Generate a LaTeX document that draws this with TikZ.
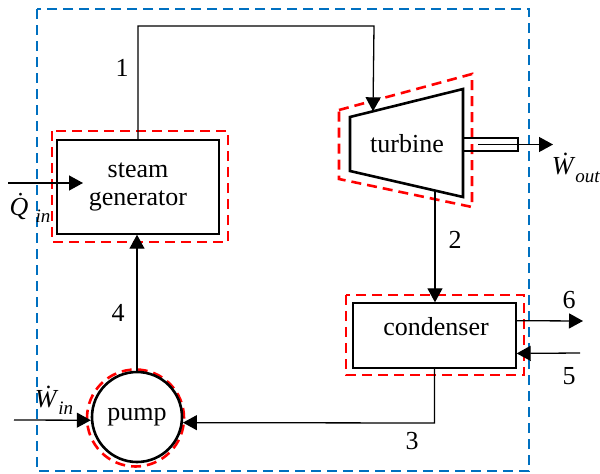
\documentclass[tikz,border=0pt]{standalone}
\usepackage{fontspec}
\setmainfont{Liberation Serif}
\newfontfamily\lserif{Liberation Serif}
\usetikzlibrary{arrows.meta,calc}
\definecolor{sysblue}{RGB}{0,112,192}
\newcommand{\flowlab}[2]{\textit{\.#1}\raisebox{-0.28em}{\fontsize{19}{20}\selectfont\textit{#2}}}
\begin{document}
\begin{tikzpicture}[x=1pt,y=-1pt,
  font=\lserif\fontsize{26}{28}\selectfont,
  conn/.style={line width=1.3pt},
  arr/.style={conn,-{Triangle[length=14pt,width=15pt]}},
  box/.style={draw,line width=1.4pt,rectangle,inner sep=0pt},
  reddash/.style={draw=red,line width=2.6pt,dash pattern=on 10pt off 6pt},
  bluedash/.style={draw=sysblue,line width=2.6pt,dash pattern=on 10pt off 6pt},
  txt/.style={inner sep=0pt}]
\useasboundingbox (0,0) rectangle (600,474);

% system boundary
\draw[bluedash] (37,9) rectangle (529,471);

% steam generator
\node[box,minimum width=162pt,minimum height=94pt,align=center] (sg) at (138,187) {steam\\generator};
\draw[reddash] (52,131) rectangle (228,242);

% turbine
\coordinate (t1) at (350,117);
\coordinate (t2) at (463,89);
\coordinate (t3) at (463,197);
\coordinate (t4) at (350,171);
\draw[line width=2.6pt,line join=miter] (t1) -- (t2) -- (t3) -- (t4) -- cycle;
\node[txt] (turbtext) at (407,144) {turbine};
\draw[reddash] (339,110) -- (472,74) -- (472,207) -- (339,179) -- cycle;
\coordinate (tin) at ($(t1)!0.2035!(t2)$);
\coordinate (tout) at ($(t4)!0.752!(t3)$);

% shaft
\coordinate (s1) at (463,138);
\coordinate (s2) at (518,151);
\draw[line width=1.5pt] (s1) rectangle (s2);
\coordinate (sin) at (478,144.5);
\coordinate (send) at (518,144.5);
\coordinate (wout) at (553,144.5);
\draw[line width=1.3pt] (sin) -- (send);
\draw[arr] (send) -- (wout);
\node[txt] (woutlab) at (576,168) {\flowlab{W}{out}};

% condenser
\node[box,minimum width=163pt,minimum height=65pt] (cond) at (434.5,335.5) {};
\node[txt] (condtext) at (436,327) {condenser};
\draw[reddash] (346,295) rectangle (524,375);

% pump
\node[circle,draw=red,line width=2.6pt,dash pattern=on 10pt off 6pt,minimum size=97pt,inner sep=0pt] (pumpred) at (135.5,418) {};
\node[circle,draw,line width=2.6pt,minimum size=90pt,inner sep=0pt] (pump) at (137,417) {pump};

% connections
\coordinate (c1a) at (137,26);
\coordinate (c1b) at (374,26);
\draw[arr] (sg.north) -- (sg.north |- c1a) -- (c1b) -- (tin);
\draw[arr] (tout) -- (tout |- cond.north);
\coordinate (p3) at (434.5,423);
\draw[arr] (cond.south) -- (p3) -- (pump.-7.7);
\draw[arr] (pump.north) -- (pump.north |- sg.south);

% heat input
\coordinate (qstart) at (8,183);
\coordinate (qtip) at (83,183);
\draw[arr] (qstart) -- (qtip);
\node[txt] (qlab) at (30,208) {\flowlab{Q}{in}};

% work input
\coordinate (winstart) at (14,420);
\draw[arr] (winstart) -- (pump.184);
\node[txt] (winlab) at (54,400) {\flowlab{W}{in}};

% cooling water
\coordinate (c6a) at ($(cond.north east)!0.277!(cond.south east)$);
\coordinate (c6b) at (583,321);
\draw[arr] (c6a) -- (c6b);
\coordinate (c5a) at (580,353);
\coordinate (c5b) at ($(cond.north east)!0.77!(cond.south east)$);
\draw[arr] (c5a) -- (c5b);

% state labels
\node[txt] (l1) at (122,68) {1};
\node[txt] (l2) at (455,240) {2};
\node[txt] (l3) at (412,441) {3};
\node[txt] (l4) at (118,313) {4};
\node[txt] (l5) at (569,376) {5};
\node[txt] (l6) at (569,300) {6};
\end{tikzpicture}
\end{document}
